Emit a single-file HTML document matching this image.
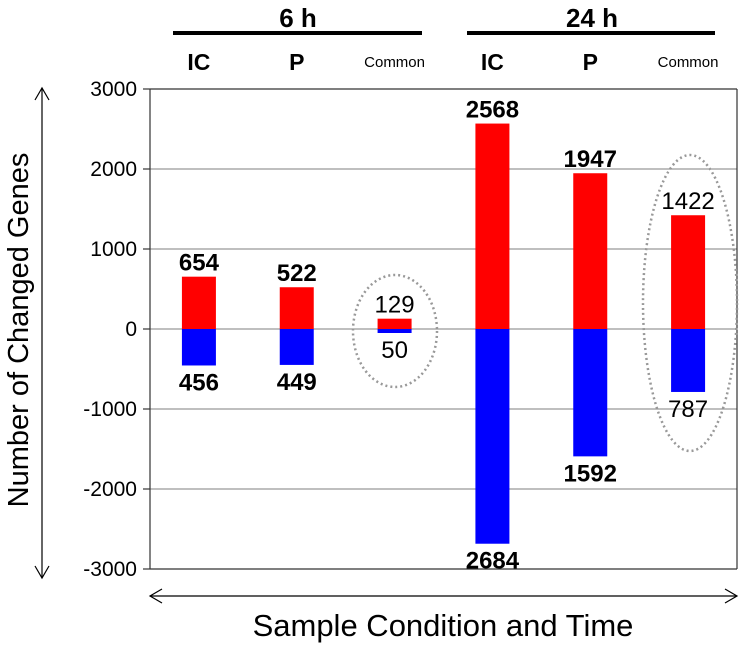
<!DOCTYPE html>
<html><head><meta charset="utf-8"><style>
body{margin:0;background:#fff;}
svg text{font-family:"Liberation Sans",Arial,sans-serif;}
</style></head><body>
<svg id="chart" width="740" height="645" viewBox="0 0 740 645" xmlns="http://www.w3.org/2000/svg">
<g id="grid"></g>
<g id="bars"></g>
<g id="labels"></g>
<g id="yticks"></g>
<ellipse cx="395" cy="331" rx="42" ry="56" fill="none" stroke="#999" stroke-width="2.5" stroke-dasharray="2 3"/>
<ellipse cx="690" cy="303" rx="47" ry="148" fill="none" stroke="#999" stroke-width="2.5" stroke-dasharray="2 3"/>
<g>
<text x="298" y="27" font-size="26" font-weight="bold" text-anchor="middle">6 h</text>
<line x1="173" y1="33" x2="422" y2="33" stroke="#000" stroke-width="4"/>
</g>
<g>
<text x="592" y="27" font-size="26" font-weight="bold" text-anchor="middle">24 h</text>
<line x1="467" y1="33" x2="715" y2="33" stroke="#000" stroke-width="4"/>
</g>
<g id="cats"></g>
<g stroke="#000" stroke-width="1.2" fill="none">
<line x1="42" y1="88" x2="42" y2="578"/><polyline points="35,100 42,88 49,100"/><polyline points="35,566 42,578 49,566"/>
</g>
<g stroke="#000" stroke-width="1.2" fill="none">
<line x1="150" y1="596" x2="737" y2="596"/><polyline points="162,589 150,596 162,603"/><polyline points="725,589 737,596 725,603"/>
</g>
<text transform="translate(28,330) rotate(-90)" font-size="29" text-anchor="middle">Number of Changed Genes</text>
<text x="443" y="636" font-size="31" text-anchor="middle">Sample Condition and Time</text>
</svg>
<script>
const categories=["IC","P","Common","IC","P","Common"];
const upValues=[654,522,129,2568,1947,1422];
const downValues=[456,449,50,2684,1592,787];
const tickValues=[3000,2000,1000,0,-1000,-2000,-3000];
const ns="http://www.w3.org/2000/svg";
const L=150,R=737,Y0=329,PX=0.08;
const y=v=>Y0-v*PX;
const bw=(R-L)/categories.length;
const xc=i=>L+bw*(i+0.5);
function mk(t,a,p){const e=document.createElementNS(ns,t);for(const k in a)e.setAttribute(k,a[k]);p.appendChild(e);return e;}
const grid=document.getElementById('grid'),bars=document.getElementById('bars'),labels=document.getElementById('labels'),yt=document.getElementById('yticks'),cats=document.getElementById('cats');
tickValues.forEach(v=>{
 const l=mk('line',{x1:L,x2:R,y1:y(v),y2:y(v),stroke:(v===3000||v===-3000)?'#333':'#999','stroke-width':1.2},grid);
 
 
 mk('line',{x1:L-7,x2:L,y1:y(v),y2:y(v),stroke:'#333','stroke-width':1.2},grid);
 const t=mk('text',{x:137,y:y(v)+7,'font-size':21,'text-anchor':'end'},yt);
 t.textContent=v;
 
 
});
mk('line',{x1:L,x2:L,y1:y(3000),y2:y(-3000),stroke:'#333','stroke-width':1.2},grid);
mk('line',{x1:R,x2:R,y1:y(3000),y2:y(-3000),stroke:'#333','stroke-width':1.2},grid);
categories.forEach((c,i)=>{
 const x=xc(i),w=34,common=c==="Common";
 const up=mk('rect',{x:x-w/2,y:y(upValues[i]),width:w,height:upValues[i]*PX,fill:'#ff0000'},bars);
 
 
 const dn=mk('rect',{x:x-w/2,y:Y0,width:w,height:downValues[i]*PX,fill:'#0000ff'},bars);
 
 
 const fs=24,fw=common?'normal':'bold';
 const tu=mk('text',{x:x,y:y(upValues[i])-6,'font-size':fs,'font-weight':fw,'text-anchor':'middle'},labels);
 tu.textContent=upValues[i];
 
 
 const td=mk('text',{x:x,y:Y0+downValues[i]*PX+25,'font-size':fs,'font-weight':fw,'text-anchor':'middle'},labels);
 td.textContent=downValues[i];
 
 
 const ct=mk('text',{x:x,y:common?67:70,'font-size':common?15:23,'font-weight':common?'normal':'bold','text-anchor':'middle'},cats);
 ct.textContent=c;
 
 
});
</script>
</body></html>
